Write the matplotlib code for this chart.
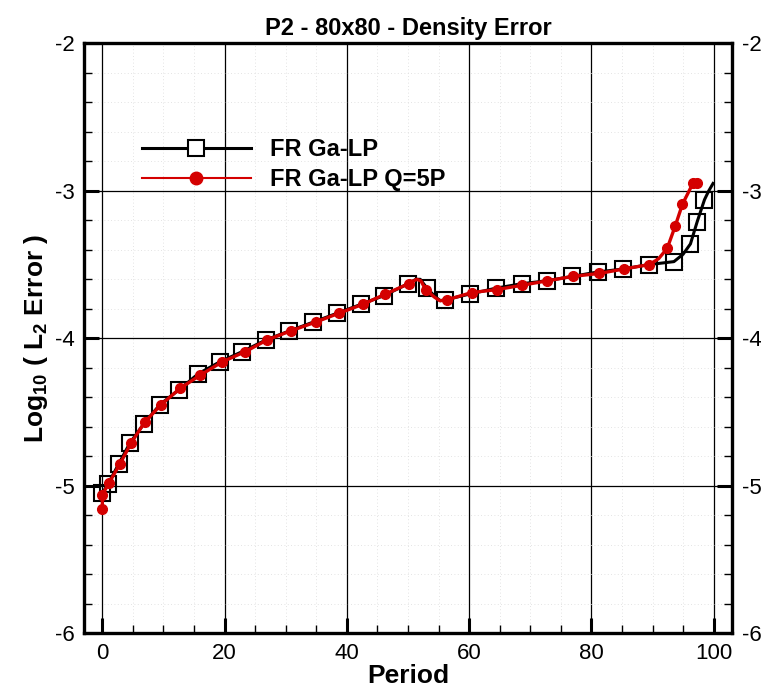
import numpy as np
import matplotlib as mpl
import matplotlib.pyplot as plt
from matplotlib.lines import Line2D
from matplotlib.ticker import MultipleLocator

# MPL settings.
mpl.rcParams['font.family'] = 'Liberation Sans'
mpl.rcParams['mathtext.fontset'] = 'custom'
mpl.rcParams['mathtext.rm'] = 'Liberation Sans'
mpl.rcParams['mathtext.default'] = 'regular'
mpl.rcParams['axes.unicode_minus'] = False

# FR Ga-LP: symbol points and extra curve points
black_mk_x = [0.0, 0.9, 2.7, 4.5, 6.8, 9.4, 12.5, 15.7, 19.2, 22.9, 26.8, 30.6, 34.5,
              38.4, 42.3, 46.1, 50.0, 53.1, 56.0, 60.1, 64.4, 68.6, 72.7, 76.9, 81.1,
              85.2, 89.4, 93.5, 96.2, 97.3, 98.5]
black_mk_y = [-5.05, -4.99, -4.85, -4.71, -4.58, -4.45, -4.35, -4.24, -4.16, -4.09,
              -4.01, -3.95, -3.89, -3.83, -3.77, -3.71, -3.63, -3.66, -3.74, -3.70,
              -3.66, -3.63, -3.61, -3.58, -3.55, -3.53, -3.50, -3.48, -3.36, -3.21, -3.06]
black_extra_x = [51.3, 52.0, 54.5, 55.3, 91.5, 95.0, 99.2, 99.9]
black_extra_y = [-3.60, -3.60, -3.72, -3.745, -3.49, -3.43, -3.00, -2.95]

# FR Ga-LP Q=5P
red_x = [0.0, 0.0, 1.1, 2.9, 4.7, 6.9, 9.6, 12.7, 16.0, 19.6, 23.4, 27.0, 30.8, 34.9,
         38.7, 42.6, 46.3, 50.1, 52.9, 56.3, 60.4, 64.5, 68.7, 72.8, 77.0, 81.3, 85.3,
         89.5, 92.4, 93.7, 94.9, 96.6, 97.2]
red_y = [-5.16, -5.06, -4.98, -4.85, -4.71, -4.57, -4.45, -4.34, -4.25, -4.16, -4.09,
         -4.01, -3.95, -3.89, -3.83, -3.77, -3.70, -3.63, -3.67, -3.74, -3.69, -3.67,
         -3.64, -3.61, -3.58, -3.56, -3.53, -3.50, -3.39, -3.24, -3.09, -2.95, -2.95]
red_extra_x = [51.4, 52.1, 54.3, 55.2, 91.0]
red_extra_y = [-3.60, -3.61, -3.72, -3.745, -3.46]

red = '#d40000'


def merged(x1, y1, x2, y2):
  x = np.concatenate([x1, x2])
  y = np.concatenate([y1, y2])
  order = np.argsort(x, kind='stable')
  return x[order], y[order]


fig = plt.figure(figsize=(7.61, 6.9), dpi=100)
ax = fig.add_axes([0.1104, 0.0822, 0.8515, 0.855])

# Grid
ax.xaxis.set_major_locator(MultipleLocator(20))
ax.xaxis.set_minor_locator(MultipleLocator(5))
ax.yaxis.set_major_locator(MultipleLocator(1))
ax.yaxis.set_minor_locator(MultipleLocator(0.2))
ax.grid(which='minor', color='#dadada', linestyle=(0, (1, 3)), linewidth=0.6)
ax.grid(which='major', color='black', linestyle='-', linewidth=0.9)
ax.set_axisbelow(True)

# Curves
bx, by = merged(black_mk_x, black_mk_y, black_extra_x, black_extra_y)
ax.plot(bx, by, color='black', linewidth=2.2, zorder=3)
ax.plot(black_mk_x, black_mk_y, linestyle='none', marker='s', markersize=11,
        markerfacecolor='none', markeredgecolor='black', markeredgewidth=1.5, zorder=3)

rx, ry = merged(red_x, red_y, red_extra_x, red_extra_y)
ax.plot(rx, ry, color=red, linewidth=2.4, zorder=4)
ax.plot(red_x, red_y, linestyle='none', marker='o', markersize=7,
        color=red, zorder=4)

ax.set_xlim(-3, 103)
ax.set_ylim(-6, -2)

# Axes style
for side in ['left', 'right', 'top', 'bottom']:
  ax.spines[side].set_linewidth(2.4)
ax.tick_params(which='both', direction='in', top=False, right=True,
               labelright=True, labelsize=16, pad=7)
ax.tick_params(which='major', length=11, width=2.2)
ax.tick_params(which='minor', length=6, width=1.0)

ax.set_xlabel('Period', fontsize=19, fontweight='bold', labelpad=0)
ax.set_ylabel('Log$_{10}$ ( L$_2$ Error )', fontsize=19, fontweight='bold', labelpad=3)
ax.set_title('P2 - 80x80 - Density Error', fontsize=17, fontweight='bold', pad=6)

# Legend
handles = [
  Line2D([], [], color='black', linewidth=2.2, marker='s', markersize=11,
         markerfacecolor='white', markeredgecolor='black', markeredgewidth=1.5),
  Line2D([], [], color=red, linewidth=1.5, marker='o', markersize=9),
]
ax.legend(handles, ['FR Ga-LP', 'FR Ga-LP Q=5P'], loc='upper left',
          bbox_to_anchor=(0.075, 0.855), frameon=False,
          prop={'size': 17, 'weight': 'bold'}, handlelength=4.6,
          handletextpad=0.8, labelspacing=0.3, borderaxespad=0)

fig.savefig('out.png', dpi=100)
